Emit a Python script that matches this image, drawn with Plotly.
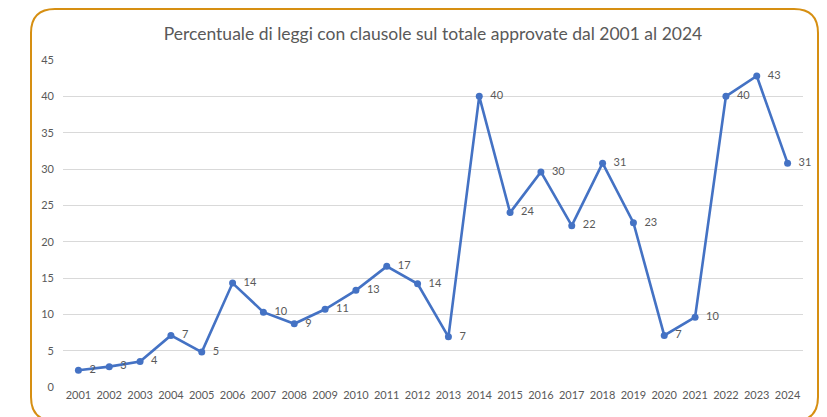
import plotly.graph_objects as go

# Percentuale di leggi con clausole, per anno
anni = [str(a) for a in range(2001, 2025)]
percentuali = [2.3, 2.8, 3.5, 7.1, 4.8, 14.3, 10.3, 8.7, 10.7, 13.3, 16.6, 14.2,
               6.9, 40.0, 24.0, 29.6, 22.2, 30.8, 22.6, 7.1, 9.6, 40.0, 42.8, 30.8]
y_ticks = [0, 5, 10, 15, 20, 25, 30, 35, 40, 45]

W, H = 827, 417
L, R, T, B = 63, 24, 60, 30
FONT = "Lato, 'Open Sans', sans-serif"
GREY = "#595959"

fig = go.Figure()
fig.add_trace(go.Scatter(
    x=anni, y=percentuali,
    mode="lines+markers+text",
    line=dict(color="#4472C4", width=2.6),
    marker=dict(color="#4472C4", size=7),
    texttemplate="\u00a0\u00a0%{y:.0f}",
    textposition="middle right",
    textfont=dict(family=FONT, size=11, color=GREY),
    cliponaxis=False,
    hoverinfo="x+y",
))

# rounded orange frame, defined in pixels and converted to paper coordinates
pw, ph = W - L - R, H - T - B
def px(x):
    return (x - L) / pw
def py(y):
    return (H - B - y) / ph
x0, x1, y0, y1, r = 31, 818, 9, 421, 24
path = (
    f"M {px(x0 + r)},{py(y0)} L {px(x1 - r)},{py(y0)} "
    f"Q {px(x1)},{py(y0)} {px(x1)},{py(y0 + r)} "
    f"L {px(x1)},{py(y1 - r)} Q {px(x1)},{py(y1)} {px(x1 - r)},{py(y1)} "
    f"L {px(x0 + r)},{py(y1)} Q {px(x0)},{py(y1)} {px(x0)},{py(y1 - r)} "
    f"L {px(x0)},{py(y0 + r)} Q {px(x0)},{py(y0)} {px(x0 + r)},{py(y0)} Z"
)
fig.add_shape(type="path", path=path, xref="paper", yref="paper",
              line=dict(color="#D68F12", width=2), layer="below")

fig.update_layout(
    width=W, height=H,
    margin=dict(l=L, r=R, t=T, b=B),
    paper_bgcolor="white", plot_bgcolor="white",
    showlegend=False,
    title=dict(
        text="Percentuale di leggi con clausole sul totale approvate dal 2001 al 2024",
        x=0.5 * (L + W - R) / W, xanchor="center", y=1 - 34 / H, yanchor="middle",
        font=dict(family=FONT, size=17.5, color=GREY),
    ),
    xaxis=dict(
        type="category", range=[-0.5, len(anni) - 0.5],
        showgrid=False, zeroline=False, showline=False, ticks="",
        tickfont=dict(family=FONT, size=11, color=GREY),
    ),
    yaxis=dict(
        range=[0, 45], tickvals=y_ticks,
        showgrid=True, gridcolor="#D9D9D9", gridwidth=1,
        zeroline=False, showline=False, ticks="",
        tickfont=dict(family=FONT, size=11, color=GREY),
        ticklabelstandoff=8,
    ),
)

fig.write_html("out.html")
